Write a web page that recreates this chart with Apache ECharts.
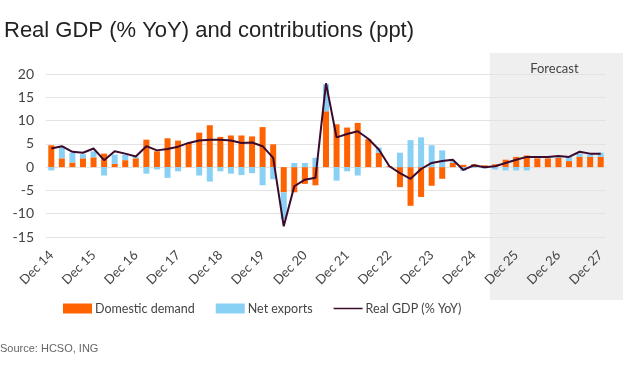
<!DOCTYPE html>
<html><head><meta charset="utf-8">
<script src="https://cdn.jsdelivr.net/npm/echarts@6/dist/echarts.min.js"></script>
<style>html,body{margin:0;padding:0;background:#fff}#c{width:635px;height:367px}</style>
</head><body><div id="c"></div>
<script>
const categories = ["Dec 14","Mar 15","Jun 15","Sep 15","Dec 15","Mar 16","Jun 16","Sep 16","Dec 16","Mar 17","Jun 17","Sep 17","Dec 17","Mar 18","Jun 18","Sep 18","Dec 18","Mar 19","Jun 19","Sep 19","Dec 19","Mar 20","Jun 20","Sep 20","Dec 20","Mar 21","Jun 21","Sep 21","Dec 21","Mar 22","Jun 22","Sep 22","Dec 22","Mar 23","Jun 23","Sep 23","Dec 23","Mar 24","Jun 24","Sep 24","Dec 24","Mar 25","Jun 25","Sep 25","Dec 25","Mar 26","Jun 26","Sep 26","Dec 26","Mar 27","Jun 27","Sep 27","Dec 27"];
const domesticDemand = [4.7,1.9,1.0,1.9,2.1,2.9,0.7,1.5,1.9,5.9,3.4,6.2,5.7,5.2,7.4,9.0,6.5,6.8,6.8,6.6,8.6,4.9,-5.4,-5.4,-3.6,-3.9,12.0,9.2,8.5,9.5,6.0,3.1,0.2,-4.3,-8.3,-6.4,-4.0,-2.5,0.9,0.5,0.6,0.4,0.6,1.6,2.2,2.5,1.9,1.9,2.0,1.3,2.2,2.2,2.2];
const netExports = [-0.7,2.5,2.1,0.9,1.3,-1.8,2.0,1.2,0.3,-1.4,-0.5,-2.3,-0.9,0.0,-1.8,-3.1,-0.9,-1.4,-1.7,-1.3,-3.9,-2.6,-5.8,0.9,0.9,2.0,5.8,-2.9,-0.9,-1.8,0.0,1.1,0.0,3.1,5.8,6.4,4.7,3.6,0.4,-0.8,-0.2,-0.3,-0.5,-0.7,-0.7,-0.7,0.5,0.3,0.4,0.9,0.7,0.6,0.9];
const realGDP = [4.0,4.5,3.3,3.1,4.0,1.5,3.4,2.9,2.3,4.5,3.6,3.9,4.4,5.2,5.7,5.9,5.9,5.7,5.2,5.3,4.5,2.0,-12.7,-4.1,-2.7,-2.3,18.0,6.4,7.1,7.7,6.1,3.8,0.2,-1.3,-2.5,-0.4,0.9,1.3,1.6,-0.6,0.4,0.0,0.2,0.9,1.6,2.2,2.2,2.2,2.4,2.2,3.3,2.9,2.9];
const yTicks = {min:-15, max:20, interval:5};
const forecastStart = "Jun 25";

const chart = echarts.init(document.getElementById('c'), null, {renderer:'canvas'});
const font = 'Lato, "Open Sans", sans-serif';
const lineIcon = 'path://M0,0h0.01v0.01h-0.01z M0,4.2h29v1.6h-29z M0,9.99h0.01v0.01h-0.01z';
const option = {
  animation:false,
  title:{text:'Real GDP (% YoY) and contributions (ppt)', left:-1, top:15,
    textStyle:{fontFamily:'"Liberation Sans", Arial, sans-serif', fontWeight:'normal', fontSize:22, color:'#222'}},
  grid:{left:46, right:29, top:74, bottom:130},
  legend:{bottom:47, left:58, itemWidth:29, itemHeight:10, itemGap:21,
    textStyle:{fontFamily:font, fontSize:12.5, color:'#444', padding:[0,0,0,-2]},
    data:[{name:'Domestic demand', icon:'rect'},{name:'Net exports', icon:'rect'},{name:'Real GDP (% YoY)', icon:lineIcon}]},
  xAxis:{type:'category', data:categories, boundaryGap:true,
    axisLine:{show:false}, axisTick:{show:false},
    axisLabel:{interval:3, rotate:45, margin:16, fontFamily:font, fontSize:13, color:'#444'}},
  yAxis:{type:'value', min:yTicks.min, max:yTicks.max, interval:yTicks.interval,
    axisLine:{show:false}, axisTick:{show:false},
    axisLabel:{fontFamily:font, fontSize:14, color:'#444', margin:12},
    splitLine:{lineStyle:{color:'#e3e3e3', width:1}}},
  series:[
    {name:'Domestic demand', type:'bar', stack:'c', data:domesticDemand, barWidth:6,
      itemStyle:{color:'#FF6200'}},
    {name:'Net exports', type:'bar', stack:'c', data:netExports, barWidth:6,
      itemStyle:{color:'#89D0F5'}},
    {name:'Real GDP (% YoY)', type:'line', data:realGDP, symbol:'none',
      lineStyle:{color:'#3B0A2C', width:2}, itemStyle:{color:'#3B0A2C'}, z:5}
  ]
};
chart.setOption(option);
const step = chart.convertToPixel({xAxisIndex:0}, categories[1]) - chart.convertToPixel({xAxisIndex:0}, categories[0]);
const xs = chart.convertToPixel({xAxisIndex:0}, forecastStart) - step/2;
const xe = chart.convertToPixel({xAxisIndex:0}, categories[categories.length-1]) + step/2 + 17;
const yTop = chart.convertToPixel({yAxisIndex:0}, yTicks.max) - 21;
const yBot = chart.convertToPixel({yAxisIndex:0}, yTicks.min) + 63;
chart.setOption({graphic:[
  {type:'rect', z:-10, silent:true, shape:{x:xs, y:yTop, width:xe-xs, height:yBot-yTop}, style:{fill:'#efefef'}},
  {type:'text', z:10, silent:true, x:(xs+xe)/2 - 2, y:yTop+16, style:{text:'Forecast', fill:'#444', font:'13px '+font, align:'center', verticalAlign:'middle'}},
  {type:'text', silent:true, left:0, top:343, style:{text:'Source: HCSO, ING', fill:'#666', font:'11px "Liberation Sans", Arial, sans-serif'}}
]});
</script></body></html>
